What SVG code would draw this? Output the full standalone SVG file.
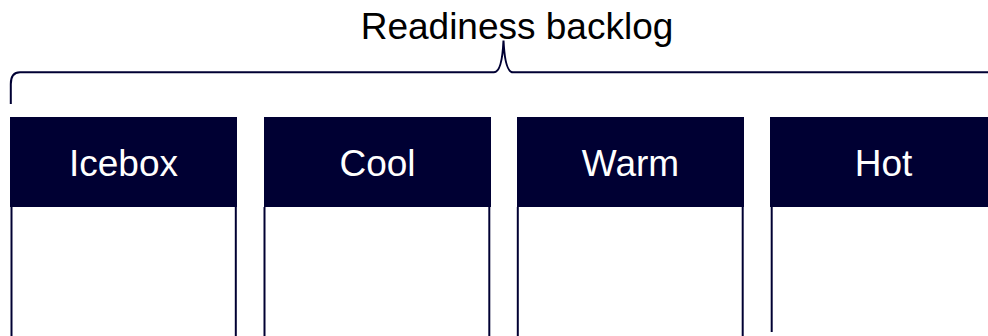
<svg xmlns="http://www.w3.org/2000/svg" width="988" height="336" viewBox="0 0 988 336">
<style>
.hdr{fill:#000033}
.lbl{font-family:"Liberation Sans",Arial,sans-serif;font-size:37px;fill:#ffffff;text-anchor:middle}
.title{font-family:"Liberation Sans",Arial,sans-serif;font-size:37px;fill:#000000;text-anchor:middle}
.side{stroke:#000033;stroke-width:2;fill:none}
.brace{stroke:#000033;stroke-width:2;fill:none}
</style>
<rect width="988" height="336" fill="#ffffff"/>
<g id="title">
<text class="title" x="517" y="39">Readiness backlog</text>
</g>
<g id="connectors">
<path class="brace" d="M 10.8 104 L 10.8 84 Q 10.8 72.3 20 72.3 L 494 72.3 Q 502 72.3 503.5 40.5 Q 505 72.3 513 72.3 L 992 72.3"/>
</g>
<g id="icebox">
<rect class="hdr" x="10" y="117" width="227" height="90"/>
<line class="side" x1="11.5" y1="207" x2="11.5" y2="340"/>
<line class="side" x1="235.8" y1="207" x2="235.8" y2="340"/>
<text class="lbl" x="123.5" y="175.5">Icebox</text>
</g>
<g id="cool">
<rect class="hdr" x="264" y="117" width="227" height="90"/>
<line class="side" x1="264.5" y1="207" x2="264.5" y2="340"/>
<line class="side" x1="489.3" y1="207" x2="489.3" y2="340"/>
<text class="lbl" x="377.5" y="175.5">Cool</text>
</g>
<g id="warm">
<rect class="hdr" x="517" y="117" width="227" height="90"/>
<line class="side" x1="517.8" y1="207" x2="517.8" y2="340"/>
<line class="side" x1="742.7" y1="207" x2="742.7" y2="340"/>
<text class="lbl" x="630.5" y="175.5">Warm</text>
</g>
<g id="hot">
<rect class="hdr" x="770" y="117" width="227" height="90"/>
<line class="side" x1="771.7" y1="207" x2="771.7" y2="332"/>
<text class="lbl" x="883.5" y="175.5">Hot</text>
</g>
</svg>
